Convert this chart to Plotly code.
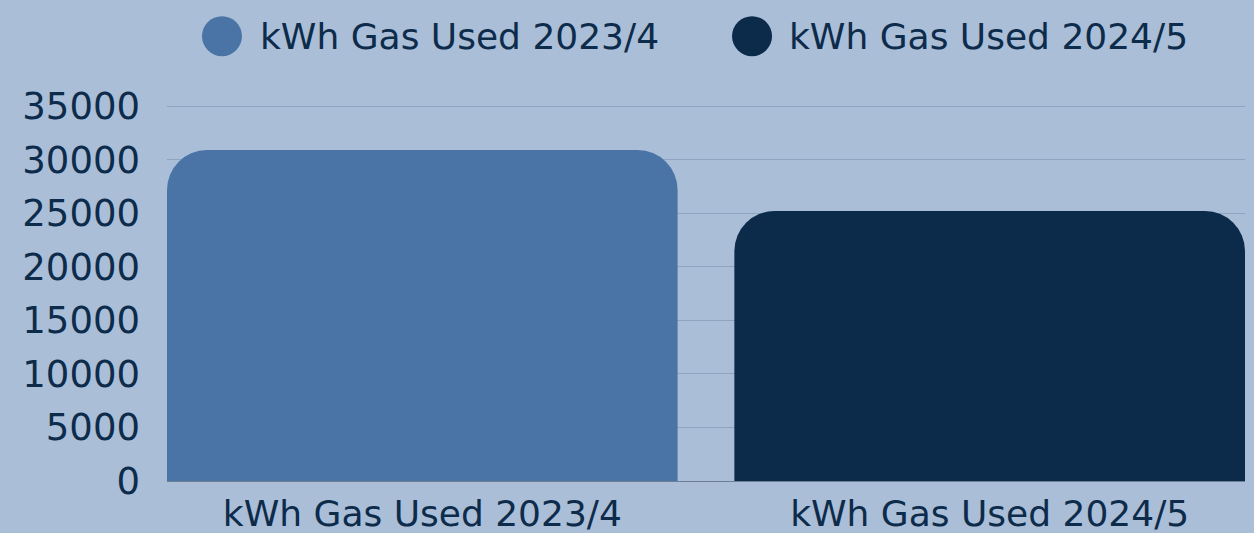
import plotly.graph_objects as go

categories = ["kWh Gas Used 2023/4", "kWh Gas Used 2024/5"]
values = [30900, 25200]
colors = ["#4a74a6", "#0c2a4a"]
y_ticks = [0, 5000, 10000, 15000, 20000, 25000, 30000, 35000]

BG = "#aabed8"
TXT = "#0d2b4a"
FONT = "DejaVu Sans"
FS = 36

fig = go.Figure()
fig.add_trace(go.Bar(
    x=categories, y=values, width=0.9,
    marker=dict(color=colors, line=dict(width=0)),
    showlegend=False, hoverinfo="x+y",
))

# Legend with large circle markers (drawn in paper coords)
leg_x = [0.051, 0.5427]
leg_tx = [0.0863, 0.577]
for name, col, lx, tx in zip(categories, colors, leg_x, leg_tx):
    fig.add_shape(type="circle", xref="paper", yref="paper",
                  xsizemode="pixel", ysizemode="pixel",
                  xanchor=lx, yanchor=1.183,
                  x0=-20, x1=20, y0=-20, y1=20,
                  fillcolor=col, line=dict(width=0))
    fig.add_annotation(text=name, xref="paper", yref="paper", x=tx, y=1.183,
                       xanchor="left", yanchor="middle", showarrow=False,
                       xshift=-2,
                       font=dict(family=FONT, size=FS, color=TXT))

fig.update_layout(
    width=1254, height=533,
    paper_bgcolor=BG, plot_bgcolor=BG,
    margin=dict(l=167, r=9, t=105, b=52, autoexpand=False),
    barcornerradius=40,
    font=dict(family=FONT, size=FS, color=TXT),
    xaxis=dict(range=[-0.45, 1.45], showgrid=False, zeroline=False,
               showline=False, ticks="", ticklabelstandoff=8, automargin=False,
               tickfont=dict(family=FONT, size=FS, color=TXT)),
    yaxis=dict(range=[0, 35100], tickvals=y_ticks, tickformat="d",
               showgrid=True, gridcolor="#8ea4c0", gridwidth=1,
               zeroline=True, zerolinecolor="#6f7f93", zerolinewidth=1,
               showline=False, ticks="", ticklabelstandoff=26, automargin=False,
               tickfont=dict(family=FONT, size=FS + 1, color=TXT)),
)

fig.write_html("out.html", config={"displayModeBar": False},
               post_script="document.body.style.margin='0';document.body.style.background='%s';" % BG)
